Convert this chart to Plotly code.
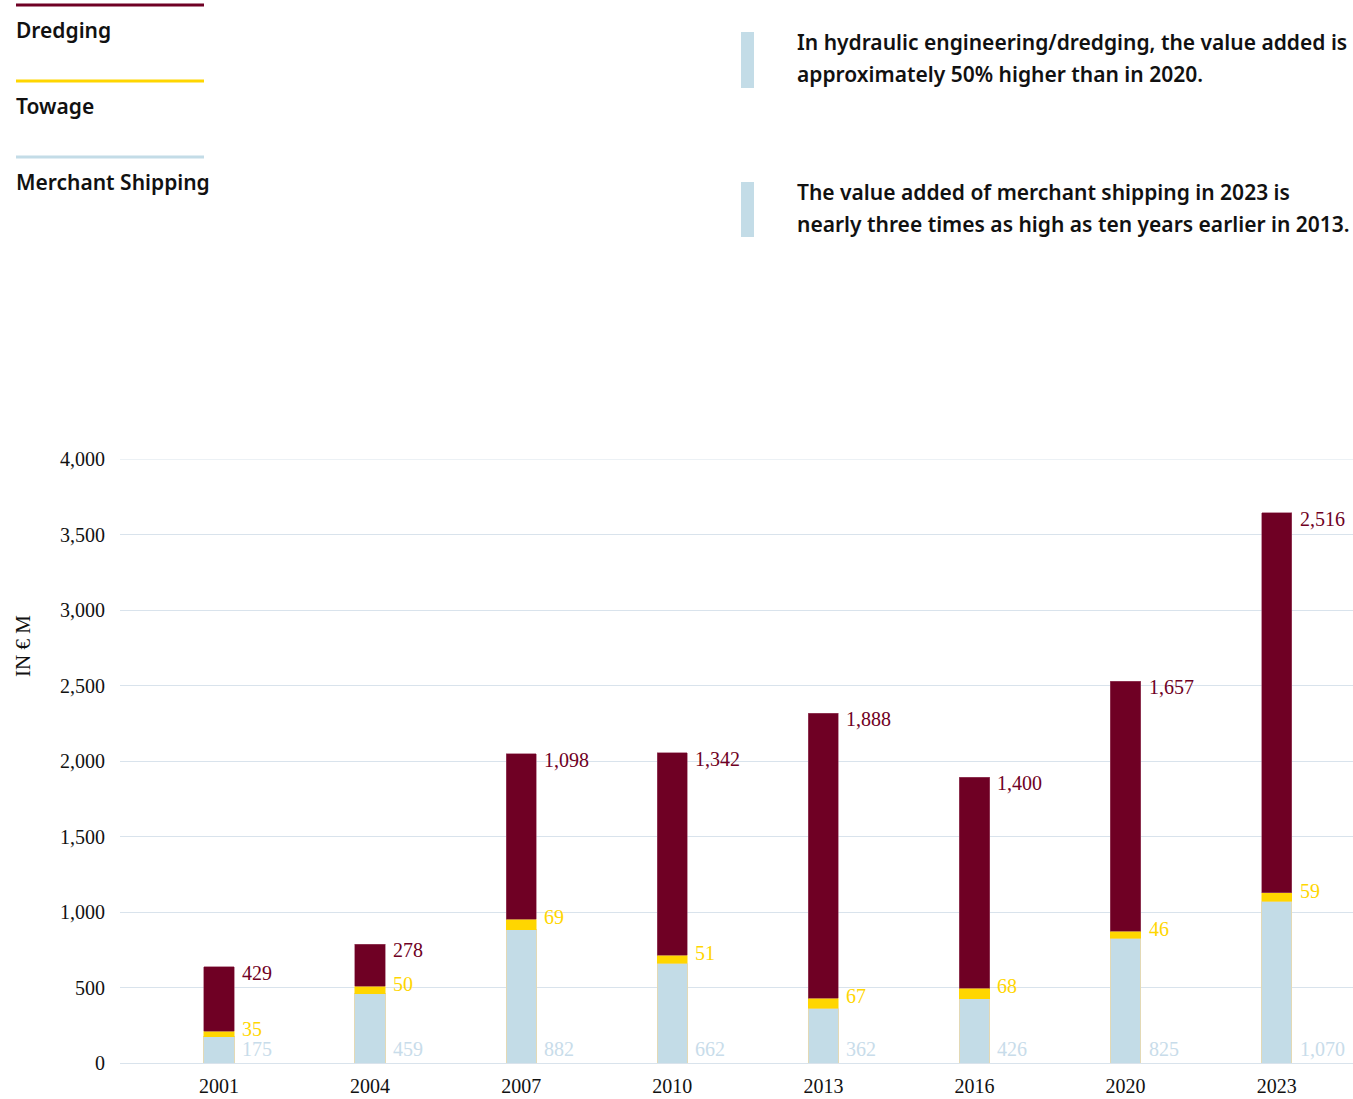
import plotly.graph_objects as go

years = ["2001", "2004", "2007", "2010", "2013", "2016", "2020", "2023"]
merchant = [175, 459, 882, 662, 362, 426, 825, 1070]
towage = [35, 50, 69, 51, 67, 68, 46, 59]
dredging = [429, 278, 1098, 1342, 1888, 1400, 1657, 2516]
y_ticks = [0, 500, 1000, 1500, 2000, 2500, 3000, 3500, 4000]

C_DRED = "#6f0024"
C_TOW = "#ffd600"
C_MER = "#c3dce7"
C_MER_TXT = "#c8dcea"
C_GRID = "#d9e3ec"
SERIF = "Liberation Serif, DejaVu Serif, serif"
SANS = "Noto Sans, Open Sans, sans-serif"

W, H = 1353, 1099
L, R, T, B = 120, 0, 459, 36
PW, PH = W - L - R, H - T - B


def px(x):
    return (x - L) / PW


def py(y):
    return (H - B - y) / PH


fig = go.Figure()
fig.add_trace(go.Bar(x=years, y=merchant, name="Merchant Shipping", marker=dict(color=C_MER, line=dict(color="#e3d9b5", width=1)), width=0.2, showlegend=False))
fig.add_trace(go.Bar(x=years, y=towage, name="Towage", marker=dict(color=C_TOW, line=dict(color=C_TOW, width=0.5)), width=0.2, showlegend=False))
fig.add_trace(go.Bar(x=years, y=dredging, name="Dredging", marker=dict(color=C_DRED, line=dict(color="#a0506a", width=0.6)), width=0.2, showlegend=False))

anns = []
for i, yr in enumerate(years):
    m, t, d = merchant[i], towage[i], dredging[i]
    anns.append(dict(x=i, y=m + t + d, xref="x", yref="y", text=f"{d:,}", showarrow=False,
                     xanchor="left", yanchor="middle", xshift=21, yshift=-6,
                     font=dict(family=SERIF, size=20, color=C_DRED)))
    anns.append(dict(x=i, y=m + t, xref="x", yref="y", text=f"{t:,}", showarrow=False,
                     xanchor="left", yanchor="middle", xshift=21, yshift=2,
                     font=dict(family=SERIF, size=20, color=C_TOW)))
    anns.append(dict(x=i, y=0, xref="x", yref="y", text=f"{m:,}", showarrow=False,
                     xanchor="left", yanchor="middle", xshift=21, yshift=14,
                     font=dict(family=SERIF, size=20, color=C_MER_TXT)))

# y axis title
anns.append(dict(x=px(23), y=py(646), xref="paper", yref="paper", text="IN € M", showarrow=False, textangle=-90,
                 xanchor="center", yanchor="middle",
                 font=dict(family=SERIF, size=21, color="#111111")))

shapes = [dict(type="line", xref="paper", yref="y", x0=0, x1=1, y0=y_ticks[-1], y1=y_ticks[-1],
               line=dict(color=C_GRID, width=1), layer="below")]
legend_items = [("Dredging", C_DRED, 5), ("Towage", C_TOW, 81), ("Merchant Shipping", C_MER, 157)]
for label, col, ly in legend_items:
    shapes.append(dict(type="line", xref="paper", yref="paper", x0=px(16), x1=px(204),
                       y0=py(ly), y1=py(ly), line=dict(color=col, width=3)))
    anns.append(dict(x=px(14), y=py(ly + 25), xref="paper", yref="paper", text=label, showarrow=False,
                     xanchor="left", yanchor="middle",
                     font=dict(family=SANS, size=21, color="#111111", weight=600)))

notes = [(["In hydraulic engineering/dredging, the value added is", "approximately 50% higher than in 2020."], 32, 88, 42),
         (["The value added of merchant shipping in 2023 is", "nearly three times as high as ten years earlier in 2013."], 182, 237, 192)]
for lines, y0, y1, yfirst in notes:
    shapes.append(dict(type="rect", xref="paper", yref="paper", x0=px(741), x1=px(754),
                       y0=py(y1), y1=py(y0), fillcolor=C_MER, line=dict(width=0)))
    for k, line in enumerate(lines):
        anns.append(dict(x=px(795), y=py(yfirst + 32 * k), xref="paper", yref="paper", text=line, showarrow=False,
                         xanchor="left", yanchor="middle", align="left",
                         font=dict(family=SANS, size=21, color="#111111", weight=600)))

fig.update_layout(
    width=W, height=H, barmode="stack",
    margin=dict(l=L, r=R, t=T, b=B),
    paper_bgcolor="white", plot_bgcolor="white",
    annotations=anns, shapes=shapes,
    xaxis=dict(type="category", range=[-0.655, 7.505], showgrid=False, showline=False, ticks="",
               tickfont=dict(family=SERIF, size=20, color="#111111"), ticklabelstandoff=9),
    yaxis=dict(range=[0, 4000], tickvals=y_ticks, ticktext=[f"{v:,}" for v in y_ticks],
               showgrid=True, gridcolor=C_GRID, gridwidth=1, zeroline=True, zerolinecolor=C_GRID,
               zerolinewidth=1, showline=False, ticks="",
               tickfont=dict(family=SERIF, size=20, color="#111111"), ticklabelstandoff=14),
)

fig.write_html("out.html")
